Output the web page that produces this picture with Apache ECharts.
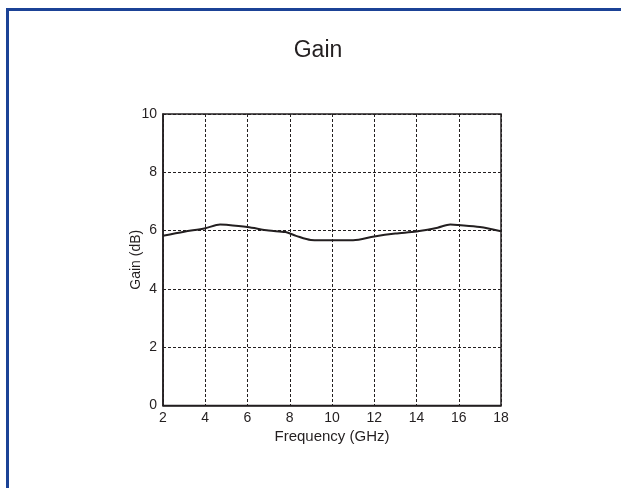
<!DOCTYPE html>
<html>
<head>
<meta charset="utf-8">
<script src="https://cdn.jsdelivr.net/npm/echarts@6/dist/echarts.min.js"></script>
<style>
html,body{margin:0;padding:0;background:#fff;}
#c{width:621px;height:488px;}
</style>
</head>
<body>
<div id="c"></div>
<script>
const titleText = 'Gain';
const xName = 'Frequency (GHz)';
const yName = 'Gain (dB)';
const freq = [2, 3, 4, 4.7, 5, 6, 7, 7.8, 8.3, 9, 10, 11, 12, 13, 14, 15, 15.6, 16, 17, 18];
const gain = [5.82, 5.96, 6.08, 6.21, 6.2, 6.12, 6.0, 5.95, 5.82, 5.68, 5.67, 5.67, 5.8, 5.9, 5.97, 6.1, 6.21, 6.19, 6.12, 5.98];

const chart = echarts.init(document.getElementById('c'), null, {renderer: 'canvas'});
const font = 'Liberation Sans, Arial, Helvetica, sans-serif';
chart.setOption({
  backgroundColor: '#fff',
  animation: false,
  title: {
    text: titleText, left: 318, top: 39, textAlign: 'center', padding: 0,
    textStyle: {fontFamily: font, fontSize: 23, fontWeight: 'normal', color: '#231f20'}
  },
  graphic: [{
    type: 'rect', shape: {x: 7.5, y: 9.5, width: 800, height: 800},
    style: {fill: 'none', stroke: '#1b4296', lineWidth: 3}, silent: true, z: 100
  }],
  grid: {left: 163, right: 120, top: 114, bottom: 82.5, show: true, borderColor: '#231f20', borderWidth: 1.5, containLabel: false},
  xAxis: {
    type: 'value', min: 2, max: 18, interval: 2,
    name: xName, nameLocation: 'middle', nameGap: 24, nameMoveOverlap: false,
    nameTextStyle: {fontFamily: font, fontSize: 15, color: '#231f20'},
    axisLine: {show: true, lineStyle: {color: '#231f20', width: 1.5}},
    axisTick: {show: false},
    axisLabel: {fontFamily: font, fontSize: 14, color: '#231f20', margin: 6},
    splitLine: {show: true, lineStyle: {color: '#231f20', type: [3, 2], width: 1}}
  },
  yAxis: {
    type: 'value', min: 0, max: 10, interval: 2,
    name: yName, nameLocation: 'middle', nameGap: 20, nameRotate: 90, nameMoveOverlap: false,
    nameTextStyle: {fontFamily: font, fontSize: 14, color: '#231f20'},
    axisLine: {show: true, lineStyle: {color: '#231f20', width: 1.5}},
    axisTick: {show: false},
    axisLabel: {fontFamily: font, fontSize: 14, color: '#231f20', margin: 6},
    splitLine: {show: true, lineStyle: {color: '#231f20', type: [3, 2], width: 1}}
  },
  series: [{
    type: 'line', data: freq.map((f, i) => [f, gain[i]]),
    smooth: 0.3, symbol: 'none',
    lineStyle: {color: '#231f20', width: 2}
  }]
});
</script>
</body>
</html>
